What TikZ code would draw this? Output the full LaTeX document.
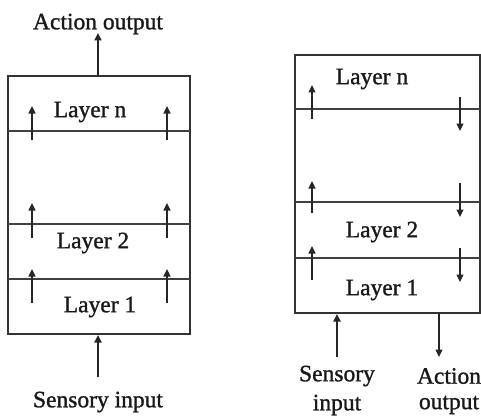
\documentclass[tikz,border=0pt]{standalone}
\usepackage{fontspec}
\setmainfont[FakeBold=1.2]{Liberation Serif}
\usetikzlibrary{arrows.meta}
\begin{document}
\begin{tikzpicture}[x=1pt,y=-1pt,
  box/.style={draw=black!80,line width=1.9pt},
  sep/.style={draw=black!75,line width=1.3pt},
  arr/.style={draw=black!85,line width=1.5pt,-{Triangle[length=7.5pt,width=7pt]}},
  lbl/.style={font=\fontsize{23.5}{26}\selectfont,inner sep=0pt,text=black!90}]
\useasboundingbox (0,0) rectangle (481,417);
% ---------- left architecture ----------
\draw[box] (8,76) rectangle (190,334);
\draw[sep] (8,131) -- (190,131);
\draw[sep] (8,224) -- (190,224);
\draw[sep] (8,279) -- (190,279);
\node[lbl] (Lln) at (90,112) {Layer n};
\node[lbl] (Ll2) at (93,243) {Layer 2};
\node[lbl] (Ll1) at (100,307) {Layer 1};
\foreach \xx/\nm in {32/a,167/b}{
  \coordinate (L\nm1s) at (\xx,140); \coordinate (L\nm1e) at (\xx,106);
  \coordinate (L\nm2s) at (\xx,238); \coordinate (L\nm2e) at (\xx,203);
  \coordinate (L\nm3s) at (\xx,303); \coordinate (L\nm3e) at (\xx,269);
  \draw[arr] (L\nm1s) -- (L\nm1e);
  \draw[arr] (L\nm2s) -- (L\nm2e);
  \draw[arr] (L\nm3s) -- (L\nm3e);
}
\node[lbl] (Lout) at (98,24) {Action output};
\node[lbl] (Lin) at (98,402) {Sensory input};
\coordinate (Ltop) at (98,76);
\coordinate (Ltope) at (98,33);
\coordinate (Lbot) at (98,377);
\coordinate (Lbotb) at (98,335);
\draw[arr,line width=1.9pt] (Ltop) -- (Ltope);
\draw[arr,line width=1.9pt] (Lbot) -- (Lbotb);
% ---------- right architecture ----------
\draw[box] (295,55) rectangle (480,313);
\draw[sep] (295,109) -- (480,109);
\draw[sep] (295,202) -- (480,202);
\draw[sep] (295,258) -- (480,258);
\node[lbl] (Rln) at (372,79) {Layer n};
\node[lbl] (Rl2) at (382,232) {Layer 2};
\node[lbl] (Rl1) at (382,290) {Layer 1};
\foreach \ys/\ye in {119/85,213/181,280/246}{
  \coordinate (Ru\ys) at (312,\ys); \coordinate (Rue\ys) at (312,\ye);
  \draw[arr] (Ru\ys) -- (Rue\ys);
}
\foreach \ys/\ye in {97/131,183/217,248/282}{
  \coordinate (Rd\ys) at (460,\ys); \coordinate (Rde\ys) at (460,\ye);
  \draw[arr] (Rd\ys) -- (Rde\ys);
}
\node[lbl] (Rs1) at (337,376) {Sensory};
\node[lbl] (Rs2) at (337,405) {input};
\node[lbl] (Ra1) at (449,376) {Action};
\node[lbl] (Ra2) at (449,405) {output};
\coordinate (Rin) at (337,357);
\coordinate (Rinb) at (337,314);
\coordinate (Rout) at (439,313);
\coordinate (Route) at (439,357);
\draw[arr,line width=1.9pt] (Rin) -- (Rinb);
\draw[arr] (Rout) -- (Route);
\end{tikzpicture}
\end{document}
